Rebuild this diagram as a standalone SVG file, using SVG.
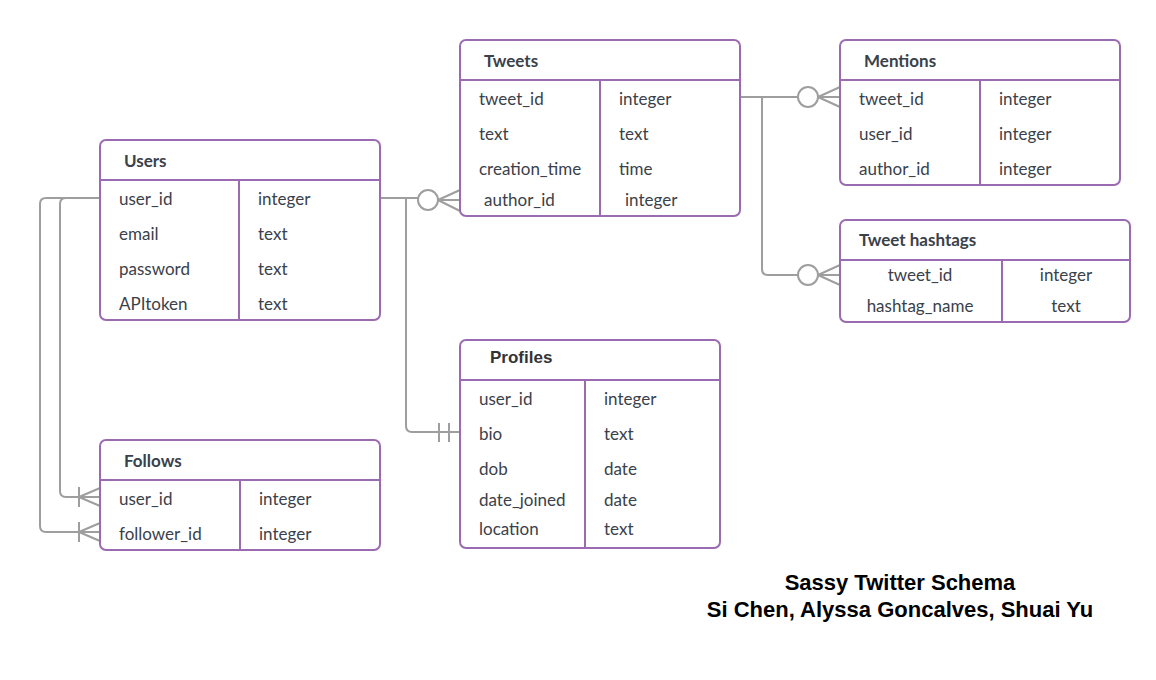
<svg xmlns="http://www.w3.org/2000/svg" width="1156" height="680" viewBox="0 0 1156 680">
<style>
.box{fill:#fff;stroke:#9a6bb0;stroke-width:2}
.ln{stroke:#9a6bb0;stroke-width:2;fill:none}
.t{font-family:Lato,"Open Sans",sans-serif;font-size:17px;fill:#3a414a}
.h{font-family:Lato,"Open Sans",sans-serif;font-size:17px;font-weight:bold;fill:#3a414a}
.ha{font-family:"Liberation Sans",Arial,sans-serif;font-size:17px;font-weight:bold;fill:#333}
.c{stroke:#9e9e9e;stroke-width:2;fill:none}
.cc{stroke:#9e9e9e;stroke-width:2;fill:#fff}
.f{font-family:"Liberation Sans",Arial,sans-serif;font-size:22px;font-weight:bold;fill:#000;text-anchor:middle}
.m{text-anchor:middle}
</style>
<rect width="1156" height="680" fill="#fff"/>
<g id="connectors">
  <path class="c" d="M380 198 H418"/>
  <circle class="cc" cx="428" cy="200" r="10"/>
  <path class="c" d="M438 200 L460 190 M438 200 H460 M438 200 L460 211"/>
  <path class="c" d="M406 198 V426 Q406 432 412 432 H460 M439 423 V442 M449 423 V442"/>
  <path class="c" d="M100 198 H66 Q60 198 60 204 V491 Q60 497 66 497 H100 M79 487 V507 M79 497 L100 488 M79 497 L100 506"/>
  <path class="c" d="M100 198 H46 Q40 198 40 204 V526 Q40 532 46 532 H100 M79 522 V542 M79 532 L100 523 M79 532 L100 541"/>
  <path class="c" d="M740 97 H798"/>
  <circle class="cc" cx="808" cy="97" r="10"/>
  <path class="c" d="M818 97 L840 87 M818 97 H840 M818 97 L840 107"/>
  <path class="c" d="M762 97 V269 Q762 275 768 275 H798"/>
  <circle class="cc" cx="808" cy="275" r="10"/>
  <path class="c" d="M818 275 L840 265 M818 275 H840 M818 275 L840 285"/>
</g>
<g id="users">
  <rect class="box" x="100" y="140" width="280" height="180" rx="6"/>
  <path class="ln" d="M100 180 H380 M239 180 V320"/>
  <text class="h" x="124" y="167">Users</text>
  <text class="t" x="119" y="205">user_id</text><text class="t" x="258" y="205">integer</text>
  <text class="t" x="119" y="240">email</text><text class="t" x="258" y="240">text</text>
  <text class="t" x="119" y="275">password</text><text class="t" x="258" y="275">text</text>
  <text class="t" x="119" y="310">APItoken</text><text class="t" x="258" y="310">text</text>
</g>
<g id="tweets">
  <rect class="box" x="460" y="40" width="280" height="176" rx="6"/>
  <path class="ln" d="M460 80 H740 M600 80 V216"/>
  <text class="h" x="484" y="67">Tweets</text>
  <text class="t" x="479" y="105">tweet_id</text><text class="t" x="619" y="105">integer</text>
  <text class="t" x="479" y="140">text</text><text class="t" x="619" y="140">text</text>
  <text class="t" x="479" y="175">creation_time</text><text class="t" x="619" y="175">time</text>
  <text class="t" x="484" y="206">author_id</text><text class="t" x="625" y="206">integer</text>
</g>
<g id="mentions">
  <rect class="box" x="840" y="40" width="280" height="145" rx="6"/>
  <path class="ln" d="M840 80 H1120 M980 80 V185"/>
  <text class="h" x="864" y="67">Mentions</text>
  <text class="t" x="859" y="105">tweet_id</text><text class="t" x="999" y="105">integer</text>
  <text class="t" x="859" y="140">user_id</text><text class="t" x="999" y="140">integer</text>
  <text class="t" x="859" y="175">author_id</text><text class="t" x="999" y="175">integer</text>
</g>
<g id="tweet-hashtags">
  <rect class="box" x="840" y="220" width="290" height="102" rx="6"/>
  <path class="ln" d="M840 260 H1130 M1002 260 V322"/>
  <text class="h" x="859" y="246">Tweet hashtags</text>
  <text class="t m" x="920" y="281">tweet_id</text><text class="t m" x="1066" y="281">integer</text>
  <text class="t m" x="920" y="312">hashtag_name</text><text class="t m" x="1066" y="312">text</text>
</g>
<g id="profiles">
  <rect class="box" x="460" y="340" width="260" height="208" rx="6"/>
  <path class="ln" d="M460 380 H720 M585 380 V548"/>
  <text class="ha" x="490" y="363">Profiles</text>
  <text class="t" x="479" y="405">user_id</text><text class="t" x="604" y="405">integer</text>
  <text class="t" x="479" y="440">bio</text><text class="t" x="604" y="440">text</text>
  <text class="t" x="479" y="475">dob</text><text class="t" x="604" y="475">date</text>
  <text class="t" x="479" y="506">date_joined</text><text class="t" x="604" y="506">date</text>
  <text class="t" x="479" y="535">location</text><text class="t" x="604" y="535">text</text>
</g>
<g id="follows">
  <rect class="box" x="100" y="440" width="280" height="110" rx="6"/>
  <path class="ln" d="M100 480 H380 M240 480 V550"/>
  <text class="h" x="124" y="467">Follows</text>
  <text class="t" x="119" y="505">user_id</text><text class="t" x="259" y="505">integer</text>
  <text class="t" x="119" y="540">follower_id</text><text class="t" x="259" y="540">integer</text>
</g>
<g id="footer">
  <text class="f" x="900" y="590">Sassy Twitter Schema</text>
  <text class="f" x="900" y="617">Si Chen, Alyssa Goncalves, Shuai Yu</text>
</g>
</svg>
